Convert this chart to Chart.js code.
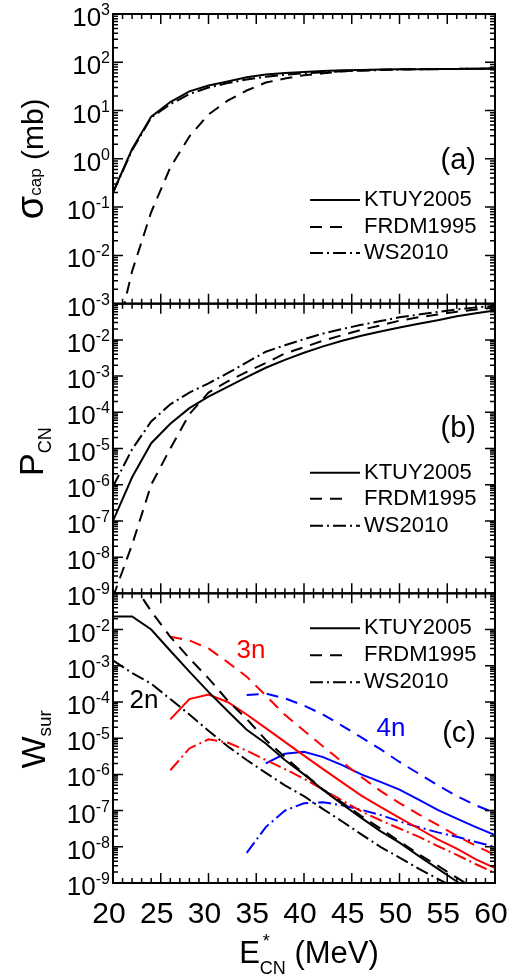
<!DOCTYPE html>
<html>
<head>
<meta charset="utf-8">
<script src="https://cdn.jsdelivr.net/npm/chart.js@4.4.1/dist/chart.umd.min.js"></script>
<style>
  body { margin: 0; background: #fff; }
  #wrap { position: relative; width: 530px; height: 979px; }
</style>
</head>
<body>
<div id="wrap"><canvas id="myChart"></canvas></div>
<script>
// excitation energy E*CN (MeV)
const energy = [20, 22, 24, 26, 28, 30, 32, 34, 36, 38, 40, 42, 44, 46, 48, 50, 52, 54, 56, 58, 60];

// (a) capture cross section, mb
const capKTUY = [0.2, 1.6, 7.5, 15, 25, 33, 40, 49, 56, 60, 63, 66, 68, 69, 70.5, 71.5, 72, 72.5, 73, 73.5, 74];
const capFRDM = [1.0e-4, 4.7e-3, 7.9e-2, 0.66, 2.9, 8.3, 16, 26, 38, 46, 54, 59, 65, 68, 70, 71.5, 72, 72.5, 73, 73.5, 74];
const capWS = [0.2, 1.5, 7.2, 13.5, 22, 30, 37, 44, 50, 55, 59, 62, 65, 67, 69, 70.5, 71.5, 72, 73, 73.5, 74];

// (b) fusion probability
const pcnKTUY = [1.0e-7, 1.6e-6, 1.4e-5, 4.8e-5, 1.3e-4, 2.7e-4, 5.0e-4, 9.3e-4, 1.7e-3, 2.8e-3, 4.4e-3, 6.6e-3, 9.5e-3, 1.3e-2, 1.7e-2, 2.2e-2, 2.8e-2, 3.5e-2, 4.5e-2, 5.4e-2, 6.5e-2];
const pcnFRDM = [7.9e-10, 2.2e-8, 1.0e-6, 1.0e-5, 8.9e-5, 3.5e-4, 7.1e-4, 1.3e-3, 2.3e-3, 4.2e-3, 6.3e-3, 9.5e-3, 1.35e-2, 1.9e-2, 2.5e-2, 3.4e-2, 4.2e-2, 5.0e-2, 6.0e-2, 6.9e-2, 7.9e-2];
const pcnWS = [8.9e-7, 9.5e-6, 5.6e-5, 1.66e-4, 3.5e-4, 6.3e-4, 1.2e-3, 2.4e-3, 4.7e-3, 7.1e-3, 1.05e-2, 1.5e-2, 2.0e-2, 2.6e-2, 3.3e-2, 4.2e-2, 5.0e-2, 5.9e-2, 6.9e-2, 7.9e-2, 8.7e-2];

// (c) survival probability, 2n / 3n / 4n channels
const sur2nKTUY = [2.3e-2, 2.3e-2, 1.0e-2, 2.6e-3, 6.9e-4, 1.9e-4, 5.6e-5, 1.7e-5, 7.1e-6, 2.5e-6, 1.0e-6, 3.7e-7, 1.5e-7, 6.3e-8, 2.7e-8, 1.3e-8, 5.6e-9, 2.5e-9, 1.1e-9, 5.0e-10, 2.2e-10];
const sur2nFRDM = [null, 0.2, 3.2e-2, 6.3e-3, 1.6e-3, 4.5e-4, 1.1e-4, 3.4e-5, 8.9e-6, 3.0e-6, 1.05e-6, 3.8e-7, 1.66e-7, 7.1e-8, 3.2e-8, 1.4e-8, 6.3e-9, 3.0e-9, 1.4e-9, 6.6e-10, 3.2e-10];
const sur2nWS = [1.4e-3, 6.3e-4, 3.2e-4, 1.2e-4, 4.5e-5, 1.6e-5, 6.0e-6, 2.5e-6, 1.1e-6, 5.0e-7, 2.5e-7, 1.1e-7, 5.0e-8, 2.2e-8, 1.0e-8, 5.0e-9, 2.5e-9, 1.3e-9, 7.1e-10, 3.5e-10, 2.0e-10];
const sur3nKTUY = [null, null, null, 3.3e-5, 1.2e-4, 1.6e-4, 1.0e-4, 4.5e-5, 1.9e-5, 7.9e-6, 3.3e-6, 1.4e-6, 6.0e-7, 2.6e-7, 1.26e-7, 6.3e-8, 3.2e-8, 1.6e-8, 8.9e-9, 4.5e-9, 2.6e-9];
const sur3nFRDM = [null, null, null, 6.3e-3, 5.0e-3, 3.0e-3, 1.26e-3, 5.0e-4, 1.5e-4, 4.4e-5, 1.6e-5, 5.9e-6, 2.2e-6, 8.5e-7, 3.5e-7, 1.6e-7, 7.9e-8, 4.0e-8, 2.0e-8, 1.07e-8, 5.9e-9];
const sur3nWS = [null, null, null, 1.3e-6, 5.2e-6, 9.3e-6, 7.6e-6, 4.5e-6, 2.5e-6, 1.4e-6, 7.6e-7, 3.8e-7, 1.9e-7, 9.5e-8, 5.4e-8, 3.2e-8, 1.9e-8, 1.05e-8, 6.0e-9, 3.3e-9, 1.9e-9];
const sur4nKTUY = [null, null, null, null, null, null, null, null, 2.0e-6, 3.7e-6, 4.2e-6, 3.0e-6, 1.8e-6, 1.0e-6, 6.2e-7, 3.8e-7, 2.0e-7, 1.05e-7, 6.0e-8, 3.5e-8, 2.1e-8];
const sur4nFRDM = [null, null, null, null, null, null, null, 1.55e-4, 1.7e-4, 1.26e-4, 7.9e-5, 4.5e-5, 2.2e-5, 1.05e-5, 5.0e-6, 2.2e-6, 1.05e-6, 5.0e-7, 2.5e-7, 1.4e-7, 8.5e-8];
const sur4nWS = [null, null, null, null, null, null, null, 6.8e-9, 3.5e-8, 1.0e-7, 1.6e-7, 1.7e-7, 1.4e-7, 1.05e-7, 7.6e-8, 5.0e-8, 3.5e-8, 2.5e-8, 1.9e-8, 1.35e-8, 1.0e-8];

// tick labels
const xTicks = [20, 25, 30, 35, 40, 45, 50, 55, 60];
const capDecades = [-3, -2, -1, 0, 1, 2, 3];
const pcnDecades = [-9, -8, -7, -6, -5, -4, -3, -2];
const surDecades = [-9, -8, -7, -6, -5, -4, -3, -2];

const models = ["KTUY2005", "FRDM1995", "WS2010"];

const FONT = '"Liberation Sans", Arial, Helvetica, sans-serif';
const DASH = [12, 8];
const DASHDOT = [13, 4, 2, 4];
const styles = [[], DASH, DASHDOT];

function series(values, axis, color, dash) {
  return {
    yAxisID: axis,
    data: energy.map((e, i) => ({ x: e, y: values[i] })),
    borderColor: color,
    borderWidth: 2,
    borderDash: dash,
    pointRadius: 0,
    tension: 0,
    fill: false,
  };
}

const panels = [
  { id: "yA", lo: -3, hi: 3, labels: capDecades, tag: "(a)", tagY: 147, legendY: [186, 213, 239] },
  { id: "yB", lo: -9, hi: -1, labels: pcnDecades, tag: "(b)", tagY: 125, legendY: [169, 195, 222] },
  { id: "yC", lo: -9, hi: -1, labels: surDecades, tag: "(c)", tagY: 141, legendY: [35, 62, 89] },
];

function drawParts(ctx, parts, x, y, align) {
  let total = 0;
  parts.forEach((p) => {
    ctx.font = p.font;
    p.w = ctx.measureText(p.text).width;
    total += p.w;
  });
  let cur = align === "center" ? x - total / 2 : align === "right" ? x - total : x;
  ctx.textAlign = "left";
  ctx.textBaseline = "alphabetic";
  parts.forEach((p) => {
    ctx.font = p.font;
    ctx.fillText(p.text, cur, y + (p.dy || 0));
    cur += p.w;
  });
}

function drawRotated(ctx, parts, cx, cy) {
  ctx.save();
  ctx.translate(cx, cy);
  ctx.rotate(-Math.PI / 2);
  drawParts(ctx, parts, 0, 0, "center");
  ctx.restore();
}

const frame = {
  id: "frame",
  afterDatasetsDraw(chart) {
    const { ctx, scales } = chart;
    const x = scales.x;
    ctx.save();
    ctx.strokeStyle = "#000";
    ctx.fillStyle = "#000";

    panels.forEach((p) => {
      const y = scales[p.id];
      ctx.setLineDash([]);
      ctx.lineWidth = 1.5;
      ctx.beginPath();
      for (let e = 20; e <= 60; e++) {
        const px = x.getPixelForValue(e);
        const len = e % 5 === 0 ? 10 : 5;
        ctx.moveTo(px, y.top);
        ctx.lineTo(px, y.top + len);
        ctx.moveTo(px, y.bottom);
        ctx.lineTo(px, y.bottom - len);
      }
      for (let d = p.lo; d < p.hi; d++) {
        for (let k = 1; k < 10; k++) {
          const py = y.getPixelForValue(k * Math.pow(10, d));
          const len = k === 1 ? 10 : 5;
          ctx.moveTo(x.left, py);
          ctx.lineTo(x.left + len, py);
          ctx.moveTo(x.right, py);
          ctx.lineTo(x.right - len, py);
        }
      }
      ctx.stroke();
      ctx.lineWidth = 2;
      ctx.strokeRect(x.left, y.top, x.right - x.left, y.bottom - y.top);

      // y tick labels 10^n
      p.labels.forEach((d) => {
        const ty = y.getPixelForValue(Math.pow(10, d));
        drawParts(ctx, [
          { text: "10", font: `26px ${FONT}`, dy: 12 },
          { text: String(d), font: `16px ${FONT}`, dy: 1 },
        ], x.left - 3, ty, "right");
      });

      // panel tag
      ctx.font = `29px ${FONT}`;
      ctx.textAlign = "right";
      ctx.textBaseline = "middle";
      ctx.fillText(p.tag, 476, y.top + p.tagY);

      // legend
      models.forEach((m, i) => {
        const ly = y.top + p.legendY[i];
        ctx.lineWidth = 2;
        ctx.setLineDash(styles[i]);
        ctx.beginPath();
        ctx.moveTo(310, ly);
        ctx.lineTo(i === 1 ? 348 : 360, ly);
        ctx.stroke();
        ctx.setLineDash([]);
        ctx.font = `22px ${FONT}`;
        ctx.textAlign = "left";
        ctx.textBaseline = "middle";
        ctx.fillText(m, 364, ly);
      });
    });

    // x tick labels
    const yC = scales.yC;
    ctx.font = `30px ${FONT}`;
    ctx.textAlign = "center";
    ctx.textBaseline = "alphabetic";
    xTicks.forEach((e) => {
      ctx.fillText(String(e), x.getPixelForValue(e) - 4, yC.bottom + 40);
    });

    // x title E*CN (MeV)
    ctx.textAlign = "left";
    const big = `31px ${FONT}`;
    const small = `18px ${FONT}`;
    ctx.font = big;
    const wE = ctx.measureText("E").width;
    const wM = ctx.measureText(" (MeV)").width;
    ctx.font = small;
    const wCN = ctx.measureText("CN").width;
    let tx = 309 - (wE + wCN + wM) / 2;
    const tb = yC.bottom + 80;
    ctx.font = big;
    ctx.fillText("E", tx, tb);
    ctx.font = small;
    ctx.fillText("*", tx + wE + 3, tb - 16);
    ctx.fillText("CN", tx + wE, tb + 11);
    ctx.font = big;
    ctx.fillText(" (MeV)", tx + wE + wCN, tb);

    // y titles
    const yA = scales.yA, yB = scales.yB;
    drawRotated(ctx, [
      { text: "σ", font: `38px ${FONT}` },
      { text: "cap", font: `17px ${FONT}`, dy: -2 },
      { text: " (mb)", font: `30px ${FONT}` },
    ], 43, (yA.top + yA.bottom) / 2);
    drawRotated(ctx, [
      { text: "P", font: `34px ${FONT}` },
      { text: "CN", font: `18px ${FONT}`, dy: 8 },
    ], 43, yB.top + 148);
    drawRotated(ctx, [
      { text: "W", font: `34px ${FONT}` },
      { text: "sur", font: `19px ${FONT}`, dy: 6 },
    ], 45, yC.top + 146);

    // channel labels
    ctx.font = `26px ${FONT}`;
    ctx.textAlign = "center";
    ctx.textBaseline = "middle";
    ctx.fillStyle = "#000";
    ctx.fillText("2n", 144, 701);
    ctx.fillStyle = "#ff0000";
    ctx.fillText("3n", 251, 651);
    ctx.fillStyle = "#0000ff";
    ctx.fillText("4n", 391, 729);
    ctx.restore();
  },
};

const ctx = document.getElementById("myChart").getContext("2d");

new Chart(ctx, {
  type: "line",
  data: {
    datasets: [
      series(capKTUY, "yA", "#000", []),
      series(capFRDM, "yA", "#000", DASH),
      series(capWS, "yA", "#000", DASHDOT),
      series(pcnKTUY, "yB", "#000", []),
      series(pcnFRDM, "yB", "#000", DASH),
      series(pcnWS, "yB", "#000", DASHDOT),
      series(sur2nKTUY, "yC", "#000", []),
      series(sur2nFRDM, "yC", "#000", DASH),
      series(sur2nWS, "yC", "#000", DASHDOT),
      series(sur3nKTUY, "yC", "#ff0000", []),
      series(sur3nFRDM, "yC", "#ff0000", DASH),
      series(sur3nWS, "yC", "#ff0000", DASHDOT),
      series(sur4nKTUY, "yC", "#0000ff", []),
      series(sur4nFRDM, "yC", "#0000ff", DASH),
      series(sur4nWS, "yC", "#0000ff", DASHDOT),
    ],
  },
  options: {
    responsive: true,
    maintainAspectRatio: false,
    animation: false,
    events: [],
    layout: { padding: { left: 113, right: 35, top: 14, bottom: 96 } },
    plugins: {
      legend: { display: false },
      tooltip: { enabled: false },
    },
    scales: {
      x: { type: "linear", min: 20, max: 60, display: false },
      yA: { type: "logarithmic", min: 1e-3, max: 1e3, display: false, position: "left", stack: "panels", stackWeight: 1, weight: 3 },
      yB: { type: "logarithmic", min: 1e-9, max: 1e-1, display: false, position: "left", stack: "panels", stackWeight: 1, weight: 2 },
      yC: { type: "logarithmic", min: 1e-9, max: 1e-1, display: false, position: "left", stack: "panels", stackWeight: 1, weight: 1 },
    },
  },
  plugins: [frame],
});
</script>
</body>
</html>
